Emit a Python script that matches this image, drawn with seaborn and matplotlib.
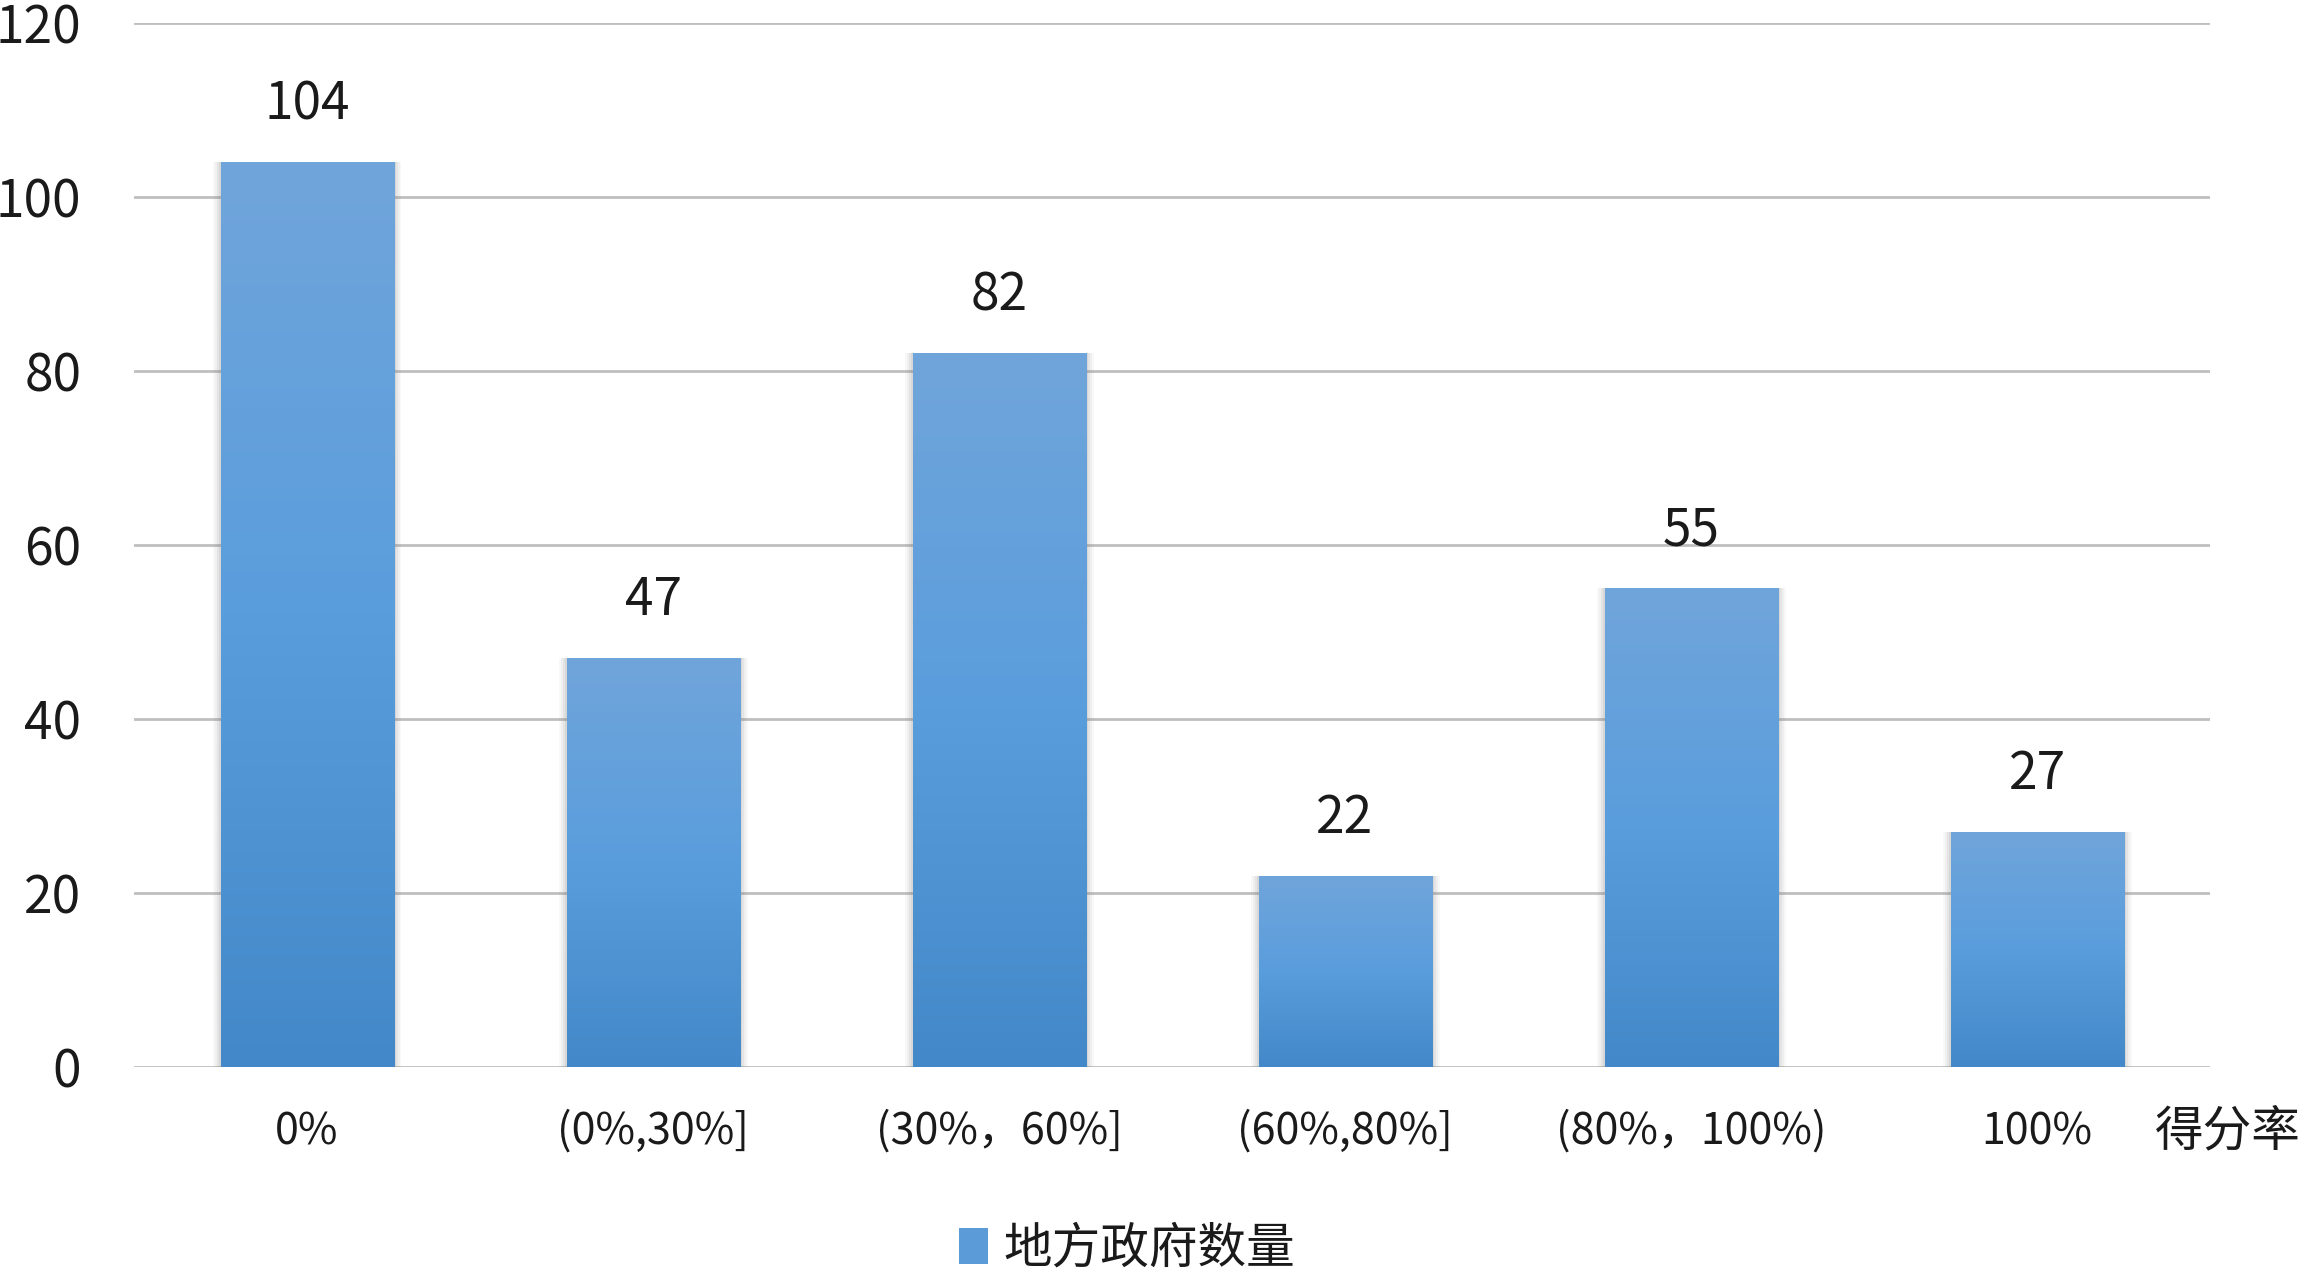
import numpy as np
import pandas as pd
import matplotlib
matplotlib.use("Agg")
import matplotlib.pyplot as plt
import matplotlib.patches as mpatches
from matplotlib.colors import LinearSegmentedColormap
import seaborn as sns

# chart data
categories = ["0%", "(0%,30%]", "(30%，60%]", "(60%,80%]", "(80%，100%)", "100%"]
counts = [104, 47, 82, 22, 55, 27]
series_name = "地方政府数量"
axis_name = "得分率"
y_ticks = [0, 20, 40, 60, 80, 100, 120]

sns.set_theme(style="white")
plt.rcParams['font.family'] = ['Noto Sans CJK SC', 'DejaVu Sans']

df = pd.DataFrame({"range": categories, "count": counts})

fig = plt.figure(figsize=(23.07, 12.74), dpi=100)
ax = fig.add_axes([0.0581, 0.1625, 0.958 - 0.0581, 0.9822 - 0.1625])

sns.barplot(data=df, x="range", y="count", color="#5B9BD5", width=0.5,
            saturation=1, ax=ax, zorder=3)

ax.set_ylim(0, 120)
ax.set_yticks(y_ticks)
ax.set_xlim(-0.5, len(categories) - 0.5)
ax.grid(axis="y", color="#BFBFBF", linewidth=2.0, zorder=0)
ax.grid(axis="x", visible=False)
for s in ax.spines.values():
    s.set_visible(False)
ax.set_xlabel("")
ax.set_ylabel("")
ax.tick_params(axis="y", length=0, pad=38, labelsize=37, labelcolor="#1a1a1a")
ax.tick_params(axis="x", length=0, pad=31, labelsize=31, labelcolor="#1a1a1a")

# vertical gradient fill + soft shadow for every bar
grad = LinearSegmentedColormap.from_list("bar", ["#4388C8", "#5A9DDD", "#70A5DA"])
img = np.linspace(0, 1, 256).reshape(-1, 1)
bars = list(ax.patches)
for p in bars:
    x0, y0 = p.get_x(), p.get_y()
    w, h = p.get_width(), p.get_height()
    dx, dy = w / 174 * 1.0, 120 / 1045 * 1.0
    for k, a in zip([8, 6, 4, 2], [0.05, 0.07, 0.09, 0.12]):
        ax.add_patch(mpatches.Rectangle((x0 - k * dx, y0 - k * dy), w + 2 * k * dx,
                                        h + k * dy, color="#7f7f7f", alpha=a,
                                        lw=0, zorder=2))
    p.set_facecolor("none")
    p.set_edgecolor("none")
    im = ax.imshow(img, cmap=grad, origin="lower", aspect="auto",
                   extent=(x0, x0 + w, y0, y0 + h), zorder=3)
    im.set_clip_path(p)

ax.set_xlim(-0.5, len(categories) - 0.5)
ax.set_ylim(0, 120)

for p, v in zip(bars, counts):
    ax.annotate(str(v), (p.get_x() + p.get_width() / 2, p.get_height()),
                xytext=(0, 22), textcoords="offset points", ha="center",
                va="bottom", fontsize=37, color="#1a1a1a")

fig.text(2155 / 2307, 1 - 1132 / 1274, axis_name, fontsize=35,
         color="#1a1a1a", ha="left", va="center")

handle = mpatches.Patch(facecolor="#5A9BD8", edgecolor="none")
fig.legend([handle], [series_name], loc="center",
           bbox_to_anchor=(1127 / 2307, 1 - 1249 / 1274), frameon=False,
           fontsize=35, handlelength=0.6, handleheight=0.75, handletextpad=0.3,
           labelcolor="#1a1a1a")

fig.savefig("out.png", dpi=100)
